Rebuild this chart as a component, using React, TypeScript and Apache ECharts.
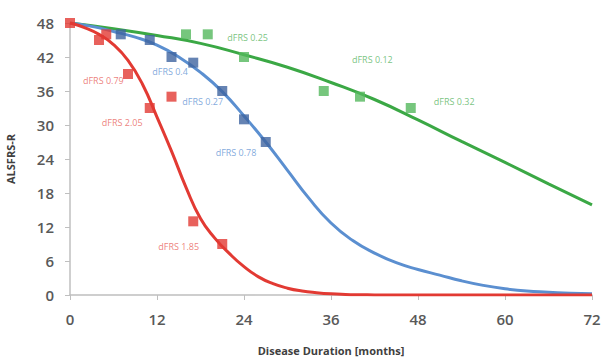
import React, { useEffect, useRef } from "react";
import * as echarts from "echarts";

const xTicks = [0, 12, 24, 36, 48, 60, 72];
const yTicks = [0, 6, 12, 18, 24, 30, 36, 42, 48];

const redCurve: [number, number][] = [
  [0, 48], [2, 47.2], [4, 46], [6, 44.2], [8, 41.4], [10, 37.2], [12, 31.4], [14, 25.4],
  [16, 19], [18, 13.5], [20, 10], [22, 7.3], [24, 5], [26, 3.2], [28, 2], [30, 1.2],
  [32, 0.7], [34, 0.4], [36, 0.2], [38, 0.1], [40, 0.05], [42, 0.02], [44, 0], [46, 0], [48, 0],
  [50, 0], [52, 0], [54, 0], [56, 0], [58, 0], [60, 0], [62, 0], [64, 0], [66, 0], [68, 0], [70, 0], [72, 0],
];
const blueCurve: [number, number][] = [
  [0, 48], [3, 47.4], [6, 46.5], [9, 45.5], [12, 44.1], [15, 42], [18, 39.3], [21, 35.9],
  [24, 31.6], [27, 27], [30, 22], [33, 17], [36, 12.7], [39, 9.6], [42, 7.4], [45, 5.7],
  [48, 4.5], [51, 3.5], [54, 2.5], [57, 1.7], [60, 1.1], [63, 0.7], [66, 0.5], [69, 0.3], [72, 0.2],
];
const greenCurve: [number, number][] = [
  [0, 48], [6, 47], [12, 45.8], [18, 44.4], [24, 42.4], [30, 40.2], [36, 37.5], [42, 34.5],
  [48, 30.9], [54, 27.1], [60, 23.4], [66, 19.6], [72, 15.9],
];

const redPoints: [number, number][] = [[0, 48], [4, 45], [5, 46], [8, 39], [11, 33], [14, 35], [17, 13], [21, 9]];
const bluePoints: [number, number][] = [[7, 46], [11, 45], [14, 42], [17, 41], [21, 36], [24, 31], [27, 27]];
const greenPoints: [number, number][] = [[16, 46], [19, 46], [24, 42], [35, 36], [40, 35], [47, 33]];

const redNotes: [number, number, string][] = [[4.6, 37.9, "dFRS 0.79"], [7.2, 30.4, "dFRS 2.05"], [15, 8.6, "dFRS 1.85"]];
const blueNotes: [number, number, string][] = [[13.8, 39.5, "dFRS 0.4"], [18.3, 34.2, "dFRS 0.27"], [22.9, 25.1, "dFRS 0.78"]];
const greenNotes: [number, number, string][] = [[24.5, 45.4, "dFRS 0.25"], [41.7, 41.5, "dFRS 0.12"], [53, 34.2, "dFRS 0.32"]];

const RED = "#e23a33";
const BLUE = "#5b8fd0";
const BLUE_PT = "#3e64a0";
const GREEN = "#3ba845";
const GREEN_PT = "#54b85c";

function notesSeries(notes: [number, number, string][], color: string) {
  return {
    type: "scatter",
    symbolSize: 0,
    silent: true,
    z: 5,
    data: notes.map((n) => ({ value: [n[0], n[1]], name: n[2] })),
    label: {
      show: true,
      position: "inside",
      formatter: (p: any) => p.name,
      color,
      fontSize: 9,
      fontFamily: "Open Sans",
    },
  };
}

function curve(data: [number, number][], color: string) {
  return {
    type: "line",
    data,
    smooth: 0.5,
    showSymbol: false,
    lineStyle: { color, width: 3 },
    z: 2,
  };
}

export default function App() {
  const ref = useRef<HTMLDivElement>(null);
  useEffect(() => {
    if (!ref.current) return;
    const chart = echarts.init(ref.current, undefined, { renderer: "svg" });
    const axisLabel = { color: "#595959", fontSize: 15, fontFamily: "Open Sans", fontWeight: 600 };
    chart.setOption({
      animation: false,
      backgroundColor: "#ffffff",
      grid: { left: 70, right: 13, top: 23, bottom: 65, outerBoundsMode: "none", containLabel: false },
      xAxis: {
        type: "value",
        min: 0,
        max: 72,
        interval: 12,
        name: "Disease Duration [months]",
        nameLocation: "middle",
        nameGap: 50,
        nameTextStyle: { color: "#404040", fontSize: 11, fontWeight: "bold", fontFamily: "Open Sans" },
        axisLine: { show: true, lineStyle: { color: "#bfbfbf", width: 1.5 } },
        axisTick: { show: true, length: 5, lineStyle: { color: "#bfbfbf" } },
        axisLabel: { ...axisLabel, margin: 16, formatter: (v: number) => (xTicks.includes(v) ? String(v) : "") },
        splitLine: { show: false },
      },
      yAxis: {
        type: "value",
        min: 0,
        max: 48,
        interval: 6,
        name: "ALSFRS-R",
        nameLocation: "middle",
        nameGap: 54,
        nameRotate: 90,
        nameTextStyle: { color: "#404040", fontSize: 11, fontWeight: "bold", fontFamily: "Open Sans" },
        axisLine: { show: true, lineStyle: { color: "#bfbfbf", width: 1.5 } },
        axisTick: { show: true, length: 5, lineStyle: { color: "#bfbfbf" } },
        axisLabel: { ...axisLabel, margin: 16, formatter: (v: number) => (yTicks.includes(v) ? String(v) : "") },
        splitLine: { show: false },
      },
      series: [
        curve(greenCurve, GREEN),
        curve(blueCurve, BLUE),
        curve(redCurve, RED),
        { type: "scatter", data: greenPoints, symbol: "rect", symbolSize: 10, itemStyle: { color: GREEN_PT }, z: 3 },
        { type: "scatter", data: bluePoints, symbol: "rect", symbolSize: 10, itemStyle: { color: BLUE_PT }, z: 3 },
        { type: "scatter", data: redPoints, symbol: "rect", symbolSize: 10, itemStyle: { color: RED }, z: 3 },
        notesSeries(redNotes, "#e8605a"),
        notesSeries(blueNotes, "#5f93d3"),
        notesSeries(greenNotes, "#56b45e"),
      ],
    });
    return () => chart.dispose();
  }, []);
  return <div ref={ref} style={{ width: 605, height: 360, position: "absolute", left: 0, top: 0 }} />;
}
